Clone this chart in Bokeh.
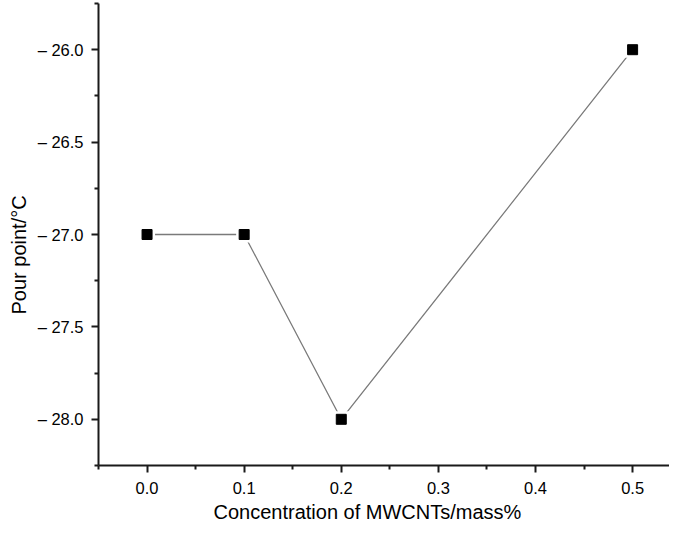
from bokeh.plotting import figure
from bokeh.models import FixedTicker, Range1d, Title
from bokeh.embed import file_html
from bokeh.resources import INLINE

# Data
concentration = [0.0, 0.1, 0.2, 0.5]
pour_point = [-27.0, -27.0, -28.0, -26.0]

x_ticks = [0.0, 0.1, 0.2, 0.3, 0.4, 0.5]
x_tick_labels = ["0.0", "0.1", "0.2", "0.3", "0.4", "0.5"]
x_minor = [-0.05, 0.05, 0.15, 0.25, 0.35, 0.45, 0.55]
y_ticks = [-28.0, -27.5, -27.0, -26.5, -26.0]
y_minor = [-28.25, -27.75, -27.25, -26.75, -26.25, -25.75]
y_tick_labels = ["\u2013 28.0", "\u2013 27.5", "\u2013 27.0", "\u2013 26.5", "\u2013 26.0"]
x_title = "Concentration of MWCNTs/mass%"
y_title = "Pour point/\u00b0C"

FONT = "Liberation Sans"
AX = "#1a1a1a"

p = figure(width=669, height=525, output_backend="svg", toolbar_location=None,
           x_range=Range1d(-0.05, 0.538), y_range=Range1d(-28.25, -25.75),
           min_border_left=98, min_border_right=0, min_border_top=3, min_border_bottom=60)
p.outline_line_color = None
p.xgrid.visible = False
p.ygrid.visible = False
p.background_fill_color = "white"

p.line(concentration, pour_point, line_color="#7a7a7a", line_width=1.3)
p.scatter(concentration, pour_point, marker="square", size=16, fill_color="white", line_color=None)
p.scatter(concentration, pour_point, marker="square", size=10, fill_color="black", line_color="black")

for ax in (p.xaxis[0], p.yaxis[0]):
    ax.axis_line_color = AX
    ax.axis_line_width = 2
    ax.major_tick_line_color = AX
    ax.minor_tick_line_color = AX
    ax.major_tick_line_width = 2
    ax.minor_tick_line_width = 2
    ax.major_tick_in = 0
    ax.minor_tick_in = 0
    ax.major_tick_out = 7
    ax.minor_tick_out = 4
    ax.major_label_text_font = FONT
    ax.major_label_text_font_size = "16.5px"
    ax.major_label_text_color = "black"

p.xaxis.ticker = FixedTicker(ticks=x_ticks, minor_ticks=x_minor)
p.yaxis.ticker = FixedTicker(ticks=y_ticks, minor_ticks=y_minor)
p.xaxis.major_label_overrides = {t: l for t, l in zip(x_ticks, x_tick_labels)}
p.yaxis.major_label_overrides = {t: l for t, l in zip(y_ticks, y_tick_labels)}
p.xaxis.major_label_standoff = 9
p.yaxis.major_label_standoff = 8

p.add_layout(Title(text=x_title, text_font=FONT, text_font_size="20px", text_font_style="normal",
                   text_color="black", align="left", offset=115, standoff=4), "below")
p.add_layout(Title(text=y_title, text_font=FONT, text_font_size="20px", text_font_style="normal",
                   text_color="black", align="left", offset=151, standoff=10), "left")

open("out.html", "w").write(file_html(p, INLINE))
